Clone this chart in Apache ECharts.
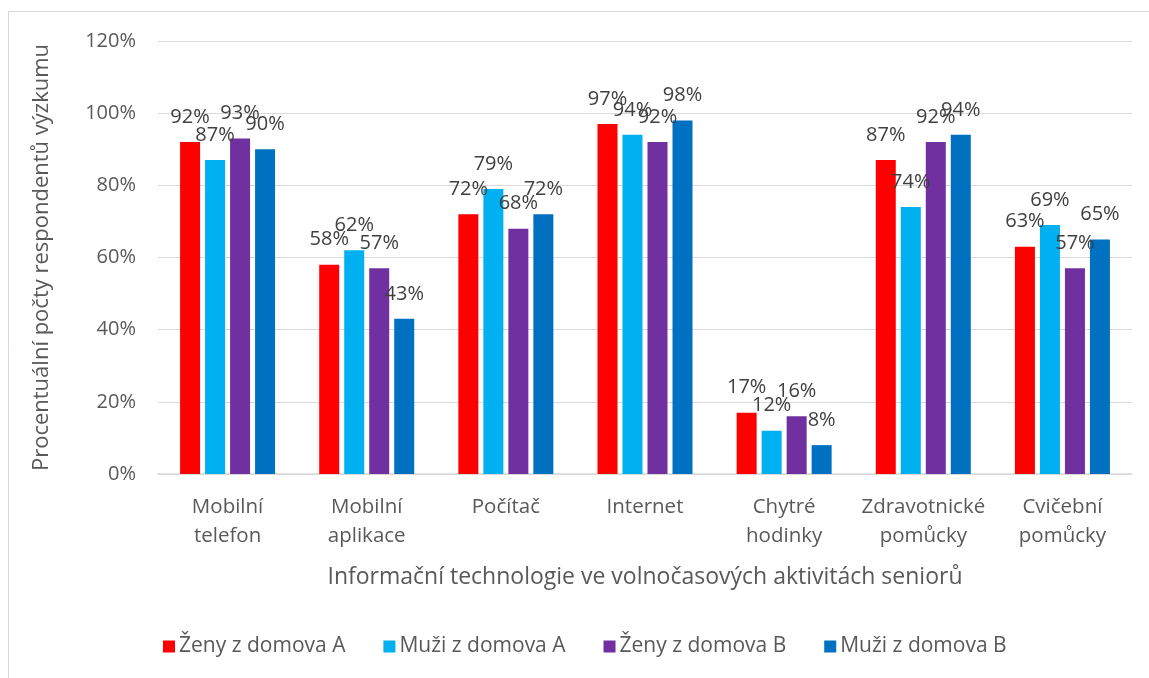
<!DOCTYPE html>
<html>
<head>
<meta charset="utf-8">
<script src="https://cdn.jsdelivr.net/npm/echarts@6/dist/echarts.min.js"></script>
<style>
  html, body { margin: 0; padding: 0; background: #fff; }
  #main { width: 1149px; height: 678px; }
</style>
</head>
<body>
<div id="main"></div>
<script>
var categories = ['Mobilní\ntelefon', 'Mobilní\naplikace', 'Počítač', 'Internet', 'Chytré\nhodinky', 'Zdravotnické\npomůcky', 'Cvičební\npomůcky'];
var zenyA = [92, 58, 72, 97, 17, 87, 63];
var muziA = [87, 62, 79, 94, 12, 74, 69];
var zenyB = [93, 57, 68, 92, 16, 92, 57];
var muziB = [90, 43, 72, 98, 8, 94, 65];
var seriesNames = ['Ženy z domova A', 'Muži z domova A', 'Ženy z domova B', 'Muži z domova B'];
var colors = ['#FF0000', '#00B0F0', '#7030A0', '#0070C0'];

var font = 'Open Sans';
var myChart = echarts.init(document.getElementById('main'));

function makeSeries(name, data, color) {
    return {
        name: name,
        type: 'bar',
        data: data,
        barWidth: 20,
        barGap: '25%',
        itemStyle: { color: color },
        label: {
            show: true,
            position: 'top',
            distance: 15,
            formatter: '{c}%',
            color: '#404040',
            fontFamily: font,
            fontSize: 20
        }
    };
}

var option = {
    animation: false,
    textStyle: { fontFamily: font },
    graphic: [{
        type: 'rect',
        shape: { x: 8.5, y: 11.5, width: 1200, height: 700 },
        style: { fill: 'none', stroke: '#d9d9d9', lineWidth: 1 },
        silent: true
    }],
    legend: {
        left: 158,
        top: 631,
        itemWidth: 12,
        itemHeight: 12,
        itemGap: 38,
        icon: 'rect',
        textStyle: { color: '#595959', fontSize: 21, fontFamily: font, padding: [0, 0, 0, -1] },
        data: seriesNames
    },
    grid: {
        left: 158,
        right: 17,
        top: 41,
        bottom: 204
    },
    xAxis: {
        type: 'category',
        data: categories,
        name: 'Informační technologie ve volnočasových aktivitách seniorů',
        nameLocation: 'middle',
        nameGap: 92,
        nameTextStyle: { color: '#595959', fontSize: 23, fontFamily: font },
        axisLine: { lineStyle: { color: '#d9d9d9', width: 1.5 } },
        axisTick: { show: false },
        axisLabel: {
            color: '#595959',
            fontSize: 20.5,
            fontFamily: font,
            lineHeight: 29,
            margin: 19,
            interval: 0
        }
    },
    yAxis: {
        type: 'value',
        min: 0,
        max: 120,
        interval: 20,
        name: 'Procentuální počty respondentů výzkumu',
        nameLocation: 'middle',
        nameGap: 105,
        nameTextStyle: { color: '#595959', fontSize: 22, fontFamily: font },
        axisLine: { show: false },
        axisTick: { show: false },
        axisLabel: {
            formatter: '{value}%',
            color: '#595959',
            fontSize: 20,
            fontFamily: font,
            margin: 22
        },
        splitLine: { lineStyle: { color: '#d9d9d9', width: 1 } }
    },
    series: [
        makeSeries(seriesNames[0], zenyA, colors[0]),
        makeSeries(seriesNames[1], muziA, colors[1]),
        makeSeries(seriesNames[2], zenyB, colors[2]),
        makeSeries(seriesNames[3], muziB, colors[3])
    ]
};

myChart.setOption(option);
</script>
</body>
</html>
